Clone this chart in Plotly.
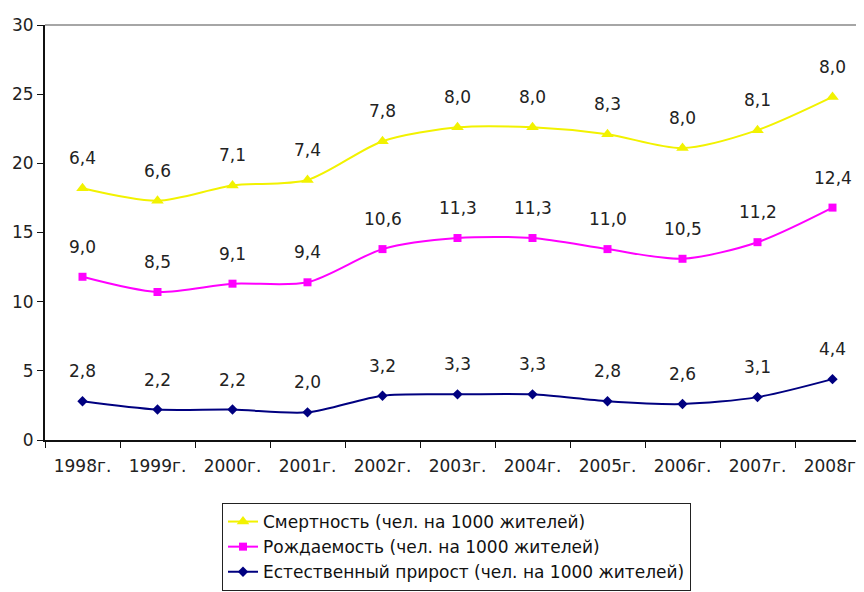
import plotly.graph_objects as go

years = ["1998г.", "1999г.", "2000г.", "2001г.", "2002г.", "2003г.", "2004г.", "2005г.", "2006г.", "2007г.", "2008г."]
natural = [2.8, 2.2, 2.2, 2.0, 3.2, 3.3, 3.3, 2.8, 2.6, 3.1, 4.4]
births = [9.0, 8.5, 9.1, 9.4, 10.6, 11.3, 11.3, 11.0, 10.5, 11.2, 12.4]
deaths = [6.4, 6.6, 7.1, 7.4, 7.8, 8.0, 8.0, 8.3, 8.0, 8.1, 8.0]

names = ["Смертность (чел. на 1000 жителей)",
         "Рождаемость (чел. на 1000 жителей)",
         "Естественный прирост (чел. на 1000 жителей)"]

# stacked cumulative values (Excel stacked line)
lvl1 = natural
lvl2 = [a + b for a, b in zip(natural, births)]
lvl3 = [a + b for a, b in zip(lvl2, deaths)]

FONT = "DejaVu Sans, Verdana, sans-serif"

fig = go.Figure()
series = [
    (names[0], lvl3, deaths, "#F2F200", "triangle-up", 11),
    (names[1], lvl2, births, "#FF00FF", "square", 8),
    (names[2], lvl1, natural, "#000080", "diamond", 8),
]
for name, ys, vals, col, sym, ms in series:
    fig.add_trace(go.Scatter(
        x=years, y=ys, name=name, mode="lines+markers",
        line=dict(color=col, width=2, shape="spline", smoothing=0.8),
        marker=dict(symbol=sym, size=ms, color=col),
    ))

annotations = []
for _, ys, vals, _, _, _ in series:
    for x, y, v in zip(years, ys, vals):
        annotations.append(dict(
            x=x, y=y, text=f"{v:.1f}".replace(".", ","), showarrow=False,
            yshift=30, yanchor="middle", xanchor="center",
            font=dict(family=FONT, size=17, color="#222222"),
        ))

W, H = 856, 584
ML, MT, MB = 37, 17, 152
pw = W - ML
ph = H - MT - MB

fig.update_layout(
    width=W, height=H,
    margin=dict(l=ML, r=0, t=MT, b=MB),
    paper_bgcolor="white", plot_bgcolor="white",
    font=dict(family=FONT, size=17, color="#222222"),
    showlegend=True,
    legend=dict(
        x=(222 - 45) / pw, y=-63 / ph, xanchor="left", yanchor="top",
        bordercolor="#222222", borderwidth=1, bgcolor="white",
        font=dict(family=FONT, size=17, color="#111111"),
        tracegroupgap=0, itemwidth=30,
    ),
    annotations=annotations,
    shapes=[dict(type="line", xref="paper", yref="paper", x0=0, x1=1, y0=1, y1=1,
                 line=dict(color="#888888", width=1.5))],
)
fig.update_xaxes(
    type="category", range=[-0.5, -0.5 + pw / 75.0], showgrid=False,
    showline=True, linecolor="#111111", linewidth=2,
    ticks="outside", tickson="boundaries", ticklen=6, tickcolor="#111111",
    tickfont=dict(size=17, color="#222222"), ticklabelstandoff=10,
)
fig.update_yaxes(
    range=[0, 30], dtick=5, showgrid=False, zeroline=False,
    showline=True, linecolor="#111111", linewidth=2,
    ticks="outside", ticklen=6, tickcolor="#111111",
    tickfont=dict(size=17, color="#222222"),
)

fig.write_html("out.html")
